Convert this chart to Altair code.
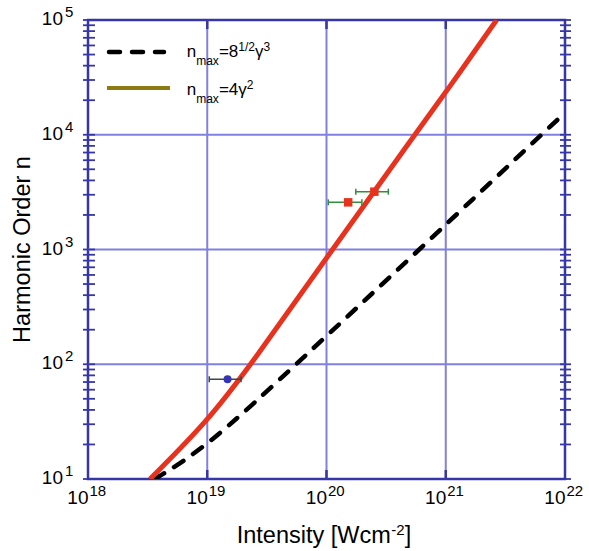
import altair as alt
import pandas as pd

# ---------------- data ----------------
# red solid curve
red_I = [3.31e18, 1.0e19, 2.34e19, 1.12e20, 5.50e20, 1.0e21, 2.67e21]
red_n = [10, 31.6, 100, 1000, 10000, 23400, 100000]
# black dashed curve
black_I = [3.63e18, 1.0e19, 5.56e19, 6.03e20, 6.31e21, 1.0e22]
black_n = [10, 19.1, 100, 1000, 10000, 15490]
# red squares with green error bars
sq_I = [1.52e20, 2.52e20]
sq_n = [2576, 3192]
sq_lo = [1.035e20, 1.76e20]
sq_hi = [1.98e20, 3.30e20]
# blue circle with dark error bar
ci_I = [1.48e19]
ci_n = [74]
ci_lo = [1.04e19]
ci_hi = [1.92e19]

# axes
x_decades = [1e18, 1e19, 1e20, 1e21, 1e22]
x_exps = ["18", "19", "20", "21", "22"]
y_decades = [1e1, 1e2, 1e3, 1e4, 1e5]
y_exps = ["1", "2", "3", "4", "5"]
y_minor = [m * d for d in [1e1, 1e2, 1e3, 1e4] for m in range(1, 10)] + [1e5]

legend_main = ["n", "=8", "γ", "n", "=4", "γ"]
legend_sub = "max"
legend_sup = ["1/2", "3", "2"]
x_title = ["Intensity [Wcm", "-2", "]"]
y_title = "Harmonic Order n"

# ---------------- styling ----------------
W, H = 477, 459
FONT = "Liberation Sans"
FRAME = "#3636a6"
GRID = "#8080e2"
RED = "#e8321e"
GREEN = "#2f8f3f"
BLUE = "#3535b5"
OLIVE = "#8c7a12"

xs = alt.Scale(type="log", domain=[1e18, 1e22], nice=False)
ys = alt.Scale(type="log", domain=[10, 1e5], nice=False)


def X(f):
    return alt.X(f, type="quantitative", scale=xs, axis=None)


def Y(f):
    return alt.Y(f, type="quantitative", scale=ys, axis=None)


one = pd.DataFrame({"a": [0]})
red_df = pd.DataFrame({"I": red_I, "n": red_n})
black_df = pd.DataFrame({"I": black_I, "n": black_n})
sq_df = pd.DataFrame({"I": sq_I, "n": sq_n, "lo": sq_lo, "hi": sq_hi})
ci_df = pd.DataFrame({"I": ci_I, "n": ci_n, "lo": ci_lo, "hi": ci_hi})
xd_df = pd.DataFrame({"I": x_decades, "e": x_exps})
yd_df = pd.DataFrame({"n": y_decades, "e": y_exps})
inner_x = pd.DataFrame({"I": x_decades[1:-1]})
inner_y = pd.DataFrame({"n": y_decades[1:-1]})
ym_df = pd.DataFrame({"n": y_minor})

layers = []

# grid lines
layers.append(alt.Chart(inner_x).mark_rule(color=GRID, strokeWidth=2).encode(
    x=X("I"), y=alt.value(0), y2=alt.value(H)))
layers.append(alt.Chart(inner_y).mark_rule(color=GRID, strokeWidth=2).encode(
    y=Y("n"), x=alt.value(0), x2=alt.value(W)))

# inward major ticks on bottom / top
layers.append(alt.Chart(inner_x).mark_rule(color=FRAME, strokeWidth=2.5).encode(
    x=X("I"), y=alt.value(H - 9), y2=alt.value(H)))
layers.append(alt.Chart(inner_x).mark_rule(color=FRAME, strokeWidth=2.5).encode(
    x=X("I"), y=alt.value(0), y2=alt.value(9)))

# minor ticks on left and right
layers.append(alt.Chart(ym_df).mark_rule(color=FRAME, strokeWidth=1.8).encode(
    y=Y("n"), x=alt.value(-5), x2=alt.value(7)))
layers.append(alt.Chart(ym_df).mark_rule(color=FRAME, strokeWidth=1.8).encode(
    y=Y("n"), x=alt.value(W - 5), x2=alt.value(W + 6)))

# curves
layers.append(alt.Chart(black_df).mark_line(
    color="black", strokeWidth=4.5, strokeDash=[11, 12], strokeCap="round",
    interpolate="basis", clip=True).encode(x=X("I"), y=Y("n")))
layers.append(alt.Chart(red_df).mark_line(
    color=RED, strokeWidth=5, interpolate="basis", clip=True).encode(
    x=X("I"), y=Y("n")))

# error bars
cap = "M0,-1L0,1"
for df, col in [(sq_df, GREEN), (ci_df, "#444444")]:
    layers.append(alt.Chart(df).mark_rule(color=col, strokeWidth=1.5).encode(
        x=X("lo"), x2="hi", y=Y("n")))
    for f in ["lo", "hi"]:
        layers.append(alt.Chart(df).mark_point(
            shape=cap, size=36, filled=False, color=col, strokeWidth=1.5,
            opacity=1).encode(x=X(f), y=Y("n")))

# points
layers.append(alt.Chart(sq_df).mark_square(size=72, color=RED, opacity=1).encode(
    x=X("I"), y=Y("n")))
layers.append(alt.Chart(ci_df).mark_circle(size=64, color=BLUE, opacity=1).encode(
    x=X("I"), y=Y("n")))

# tick labels
layers.append(alt.Chart(xd_df).mark_text(
    align="right", baseline="alphabetic", fontSize=19, font=FONT, color="black",
    dx=0.5).encode(x=X("I"), y=alt.value(H + 25), text=alt.value("10")))
layers.append(alt.Chart(xd_df).mark_text(
    align="left", baseline="alphabetic", fontSize=15, font=FONT, color="black",
    dx=1.5).encode(x=X("I"), y=alt.value(H + 17), text="e:N"))
layers.append(alt.Chart(yd_df).mark_text(
    align="right", baseline="alphabetic", fontSize=19, font=FONT, color="black",
    dy=5).encode(y=Y("n"), x=alt.value(-25), text=alt.value("10")))
layers.append(alt.Chart(yd_df).mark_text(
    align="left", baseline="alphabetic", fontSize=15, font=FONT, color="black",
    dy=-3).encode(y=Y("n"), x=alt.value(-23), text="e:N"))


def txt(s, x, y, size, angle=0, align="left"):
    return alt.Chart(one).mark_text(
        align=align, baseline="alphabetic", fontSize=size, font=FONT,
        color="black", angle=angle).encode(
        x=alt.value(x), y=alt.value(y), text=alt.value(s))


# axis titles
layers.append(txt(x_title[0], 148.7, 523.3, 23.5))
layers.append(txt(x_title[1], 303.3, 515, 15))
layers.append(txt(x_title[2], 316.8, 523.3, 23.5))
layers.append(txt(y_title, -58, H / 2, 23.5, angle=270, align="center"))

# legend samples
layers.append(alt.Chart(one).mark_rule(
    color="black", strokeWidth=4.5, strokeDash=[11, 12], strokeCap="round").encode(
    x=alt.value(21), x2=alt.value(76), y=alt.value(32)))
layers.append(alt.Chart(one).mark_rule(color=OLIVE, strokeWidth=4).encode(
    x=alt.value(19), x2=alt.value(82), y=alt.value(68)))

# legend texts
r1, r2 = 37, 75
layers.append(txt(legend_main[0], 98.7, r1, 17))
layers.append(txt(legend_sub, 108.2, r1 + 8, 12))
layers.append(txt(legend_main[1], 130.9, r1, 17))
layers.append(txt(legend_sup[0], 150.3, r1 - 6, 12))
layers.append(txt(legend_main[2], 167.0, r1, 17))
layers.append(txt(legend_sup[1], 175.5, r1 - 6, 12))

layers.append(txt(legend_main[3], 98.7, r2, 17))
layers.append(txt(legend_sub, 108.2, r2 + 8, 12))
layers.append(txt(legend_main[4], 130.9, r2, 17))
layers.append(txt(legend_main[5], 150.3, r2, 17))
layers.append(txt(legend_sup[2], 158.8, r2 - 6, 12))

chart = alt.layer(*layers).properties(
    width=W, height=H,
    autosize=alt.AutoSizeParams(type="none"),
    padding={"left": 88, "top": 20, "right": 24, "bottom": 72},
    background="white",
).configure_view(stroke=FRAME, strokeWidth=2.5)

chart.save("out.html", embed_options={"renderer": "svg", "actions": False})
